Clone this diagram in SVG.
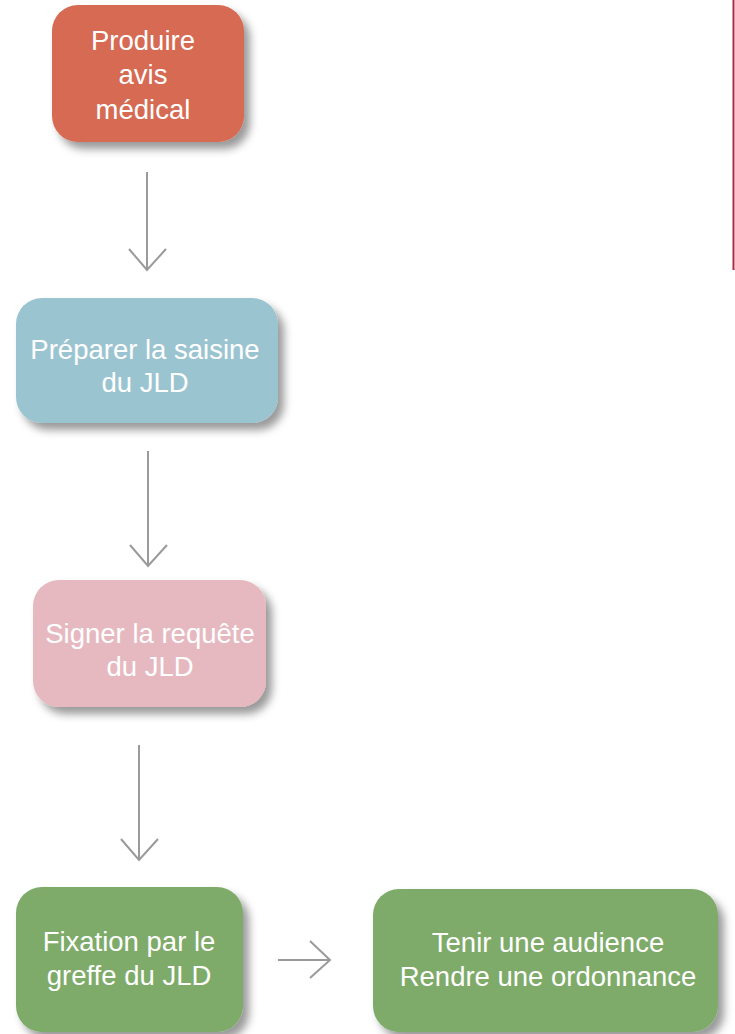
<svg xmlns="http://www.w3.org/2000/svg" width="735" height="1034" viewBox="0 0 735 1034">
<style>
.node{filter:url(#sh)}
.t{font-family:"Liberation Sans",Arial,sans-serif;font-size:27.5px;fill:#ffffff;text-anchor:middle}
.c{stroke:#9a9a9a;stroke-width:2;fill:none}
</style>
<defs>
<filter id="sh" x="-20%" y="-20%" width="150%" height="150%">
<feDropShadow dx="6" dy="7" stdDeviation="4" flood-color="#000" flood-opacity="0.4"/>
</filter>
</defs>
<rect width="735" height="1034" fill="#ffffff"/>
<line x1="733.5" y1="0" x2="733.5" y2="270" stroke="#b02a48" stroke-width="2"/>
<g id="n1"><rect class="node" x="52" y="5" width="192" height="137" rx="26" fill="#d66b52"/>
<text class="t" x="143" y="50">Produire</text><text class="t" x="143" y="84">avis</text><text class="t" x="143" y="119">médical</text></g>
<g id="n2"><rect class="node" x="16" y="298" width="262" height="125" rx="26" fill="#9bc4d1"/>
<text class="t" x="145" y="359">Préparer la saisine</text><text class="t" x="145" y="392">du JLD</text></g>
<g id="n3"><rect class="node" x="33" y="580" width="233" height="127" rx="26" fill="#e6b9c1"/>
<text class="t" x="150" y="643">Signer la requête</text><text class="t" x="150" y="676">du JLD</text></g>
<g id="n4"><rect class="node" x="16" y="887" width="227" height="145" rx="26" fill="#7eab69"/>
<text class="t" x="129" y="951">Fixation par le</text><text class="t" x="129" y="985">greffe du JLD</text></g>
<g id="n5"><rect class="node" x="373" y="889" width="345" height="143" rx="26" fill="#7eab69"/>
<text class="t" x="548" y="952">Tenir une audience</text><text class="t" x="548" y="986">Rendre une ordonnance</text></g>
<g id="connectors">
<path class="c" d="M147 172V270M129 249L147 270L166 249"/>
<path class="c" d="M148 451V566M130 545L148 566L167 545"/>
<path class="c" d="M139 745V860M121 839L139 860L158 839"/>
<path class="c" d="M278 960H330M310 941L330 960L310 978"/>
</g>
</svg>
